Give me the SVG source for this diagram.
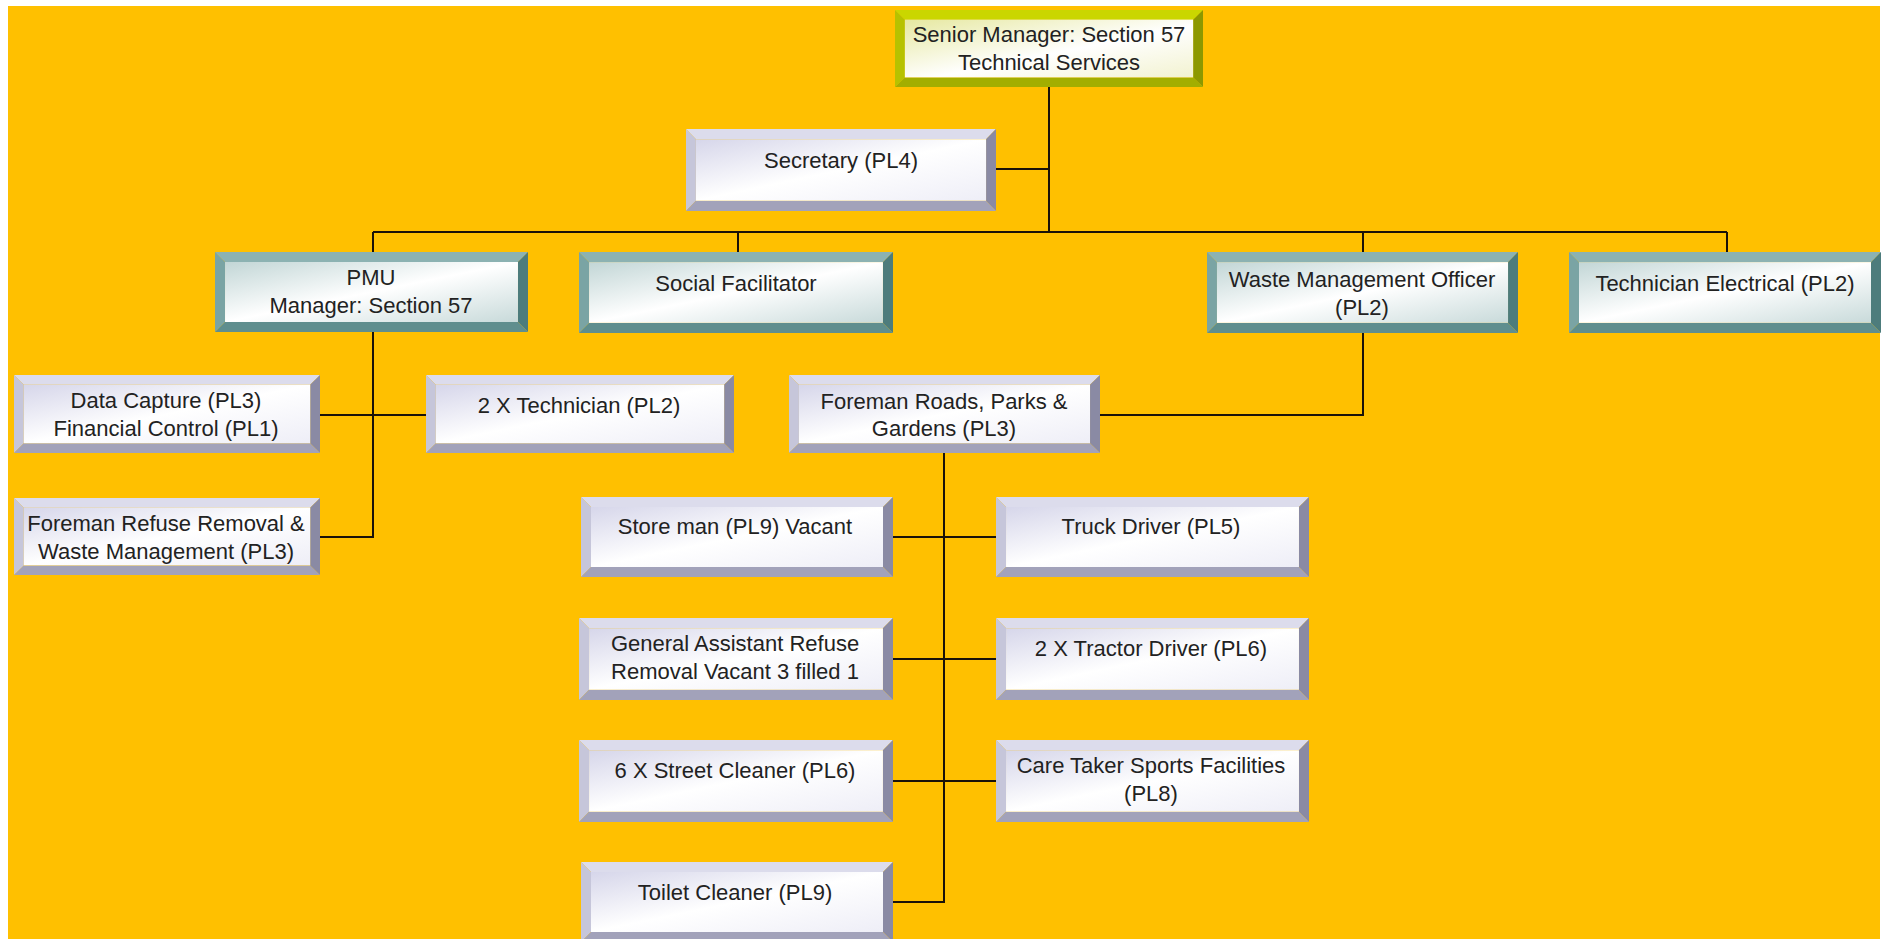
<svg xmlns="http://www.w3.org/2000/svg" xmlns:xlink="http://www.w3.org/1999/xlink" width="1887" height="939" viewBox="0 0 1887 939">
<style>
.lbl{font-family:"Liberation Sans",Arial,sans-serif;font-size:22px;fill:#222;text-anchor:middle}
.con{stroke:#1a1208;stroke-width:2;fill:none}
</style>
<defs>
<linearGradient id="fL" x1="0" y1="0" x2="1" y2="1">
<stop offset="0" stop-color="#d6d6ea"/><stop offset="0.5" stop-color="#ffffff"/><stop offset="1" stop-color="#eeeef7"/>
</linearGradient>
<linearGradient id="fT" x1="0" y1="0" x2="1" y2="1">
<stop offset="0" stop-color="#c2d6d6"/><stop offset="0.5" stop-color="#ffffff"/><stop offset="1" stop-color="#c8dada"/>
</linearGradient>
<linearGradient id="fY" x1="0" y1="0" x2="1" y2="1">
<stop offset="0" stop-color="#e6e8a0"/><stop offset="0.55" stop-color="#ffffff"/><stop offset="1" stop-color="#f2f2d0"/>
</linearGradient>
<symbol id="bL" viewBox="0 0 312 80" preserveAspectRatio="none">
<polygon points="0,0 312,0 302,10 10,10" fill="#dcdcec"/>
<polygon points="0,0 10,10 10,70 0,80" fill="#c6c6da"/>
<polygon points="312,0 312,80 302,70 302,10" fill="#8a8aa4"/>
<polygon points="0,80 312,80 302,70 10,70" fill="#a2a2ba"/>
<rect x="10" y="10" width="292" height="60" fill="url(#fL)"/>
</symbol>
<symbol id="bT" viewBox="0 0 312 80" preserveAspectRatio="none">
<polygon points="0,0 312,0 302,10 10,10" fill="#8cb2b2"/>
<polygon points="0,0 10,10 10,70 0,80" fill="#7aa4a4"/>
<polygon points="312,0 312,80 302,70 302,10" fill="#4d7c7c"/>
<polygon points="0,80 312,80 302,70 10,70" fill="#5f8e8e"/>
<rect x="10" y="10" width="292" height="60" fill="url(#fT)"/>
</symbol>
<symbol id="bY" viewBox="0 0 312 80" preserveAspectRatio="none">
<polygon points="0,0 312,0 302,10 10,10" fill="#cad600"/>
<polygon points="0,0 10,10 10,70 0,80" fill="#b6c200"/>
<polygon points="312,0 312,80 302,70 302,10" fill="#8c9800"/>
<polygon points="0,80 312,80 302,70 10,70" fill="#a2ae00"/>
<rect x="10" y="10" width="292" height="60" fill="url(#fY)"/>
</symbol>
</defs>
<rect x="0" y="0" width="1887" height="939" fill="#ffffff"/>
<rect x="8" y="6" width="1872" height="933" fill="#ffc000"/>
<g id="connectors">
<path class="con" d="M1049,87 V232"/>
<path class="con" d="M996,169 H1049"/>
<path class="con" d="M373,232 H1727"/>
<path class="con" d="M373,232 V252 M738,232 V252 M1363,232 V252 M1727,232 V252"/>
<path class="con" d="M373,332 V537 H320"/>
<path class="con" d="M320,415 H426"/>
<path class="con" d="M1363,333 V415 H1100"/>
<path class="con" d="M944,453 V902 H893"/>
<path class="con" d="M893,537 H996 M893,659 H996 M893,781 H996"/>
</g>
<g id="n-senior"><use xlink:href="#bY" x="895" y="10" width="308" height="77"/><text class="lbl" x="1049" y="42">Senior Manager: Section 57</text><text class="lbl" x="1049" y="70">Technical Services</text></g>
<g id="n-secretary"><use xlink:href="#bL" x="686" y="129" width="310" height="82"/><text class="lbl" x="841" y="168">Secretary (PL4)</text></g>
<g id="n-pmu"><use xlink:href="#bT" x="215" y="252" width="313" height="80"/><text class="lbl" x="371" y="285">PMU</text><text class="lbl" x="371" y="313">Manager: Section 57</text></g>
<g id="n-social"><use xlink:href="#bT" x="579" y="252" width="314" height="81"/><text class="lbl" x="736" y="291">Social Facilitator</text></g>
<g id="n-waste"><use xlink:href="#bT" x="1207" y="252" width="311" height="81"/><text class="lbl" x="1362" y="287">Waste Management Officer</text><text class="lbl" x="1362" y="315">(PL2)</text></g>
<g id="n-techelec"><use xlink:href="#bT" x="1569" y="252" width="312" height="81"/><text class="lbl" x="1725" y="291">Technician Electrical (PL2)</text></g>
<g id="n-datacapture"><use xlink:href="#bL" x="14" y="375" width="306" height="78"/><text class="lbl" x="166" y="408">Data Capture (PL3)</text><text class="lbl" x="166" y="436">Financial Control (PL1)</text></g>
<g id="n-technician"><use xlink:href="#bL" x="426" y="375" width="308" height="78"/><text class="lbl" x="579" y="413">2 X Technician (PL2)</text></g>
<g id="n-foremanroads"><use xlink:href="#bL" x="789" y="375" width="311" height="78"/><text class="lbl" x="944" y="409">Foreman Roads, Parks &amp;</text><text class="lbl" x="944" y="436">Gardens (PL3)</text></g>
<g id="n-foremanrefuse"><use xlink:href="#bL" x="14" y="498" width="306" height="77"/><text class="lbl" x="166" y="531">Foreman Refuse Removal &amp;</text><text class="lbl" x="166" y="559">Waste Management (PL3)</text></g>
<g id="n-storeman"><use xlink:href="#bL" x="581" y="497" width="312" height="80"/><text class="lbl" x="735" y="534">Store man (PL9) Vacant</text></g>
<g id="n-truck"><use xlink:href="#bL" x="996" y="497" width="313" height="80"/><text class="lbl" x="1151" y="534">Truck Driver (PL5)</text></g>
<g id="n-genassist"><use xlink:href="#bL" x="579" y="618" width="314" height="82"/><text class="lbl" x="735" y="651">General Assistant Refuse</text><text class="lbl" x="735" y="679">Removal Vacant 3 filled 1</text></g>
<g id="n-tractor"><use xlink:href="#bL" x="996" y="618" width="313" height="82"/><text class="lbl" x="1151" y="656">2 X Tractor Driver (PL6)</text></g>
<g id="n-street"><use xlink:href="#bL" x="579" y="740" width="314" height="82"/><text class="lbl" x="735" y="778">6 X Street Cleaner (PL6)</text></g>
<g id="n-caretaker"><use xlink:href="#bL" x="996" y="740" width="313" height="82"/><text class="lbl" x="1151" y="773">Care Taker Sports Facilities</text><text class="lbl" x="1151" y="801">(PL8)</text></g>
<g id="n-toilet"><use xlink:href="#bL" x="581" y="862" width="312" height="80"/><text class="lbl" x="735" y="900">Toilet Cleaner (PL9)</text></g>
</svg>
